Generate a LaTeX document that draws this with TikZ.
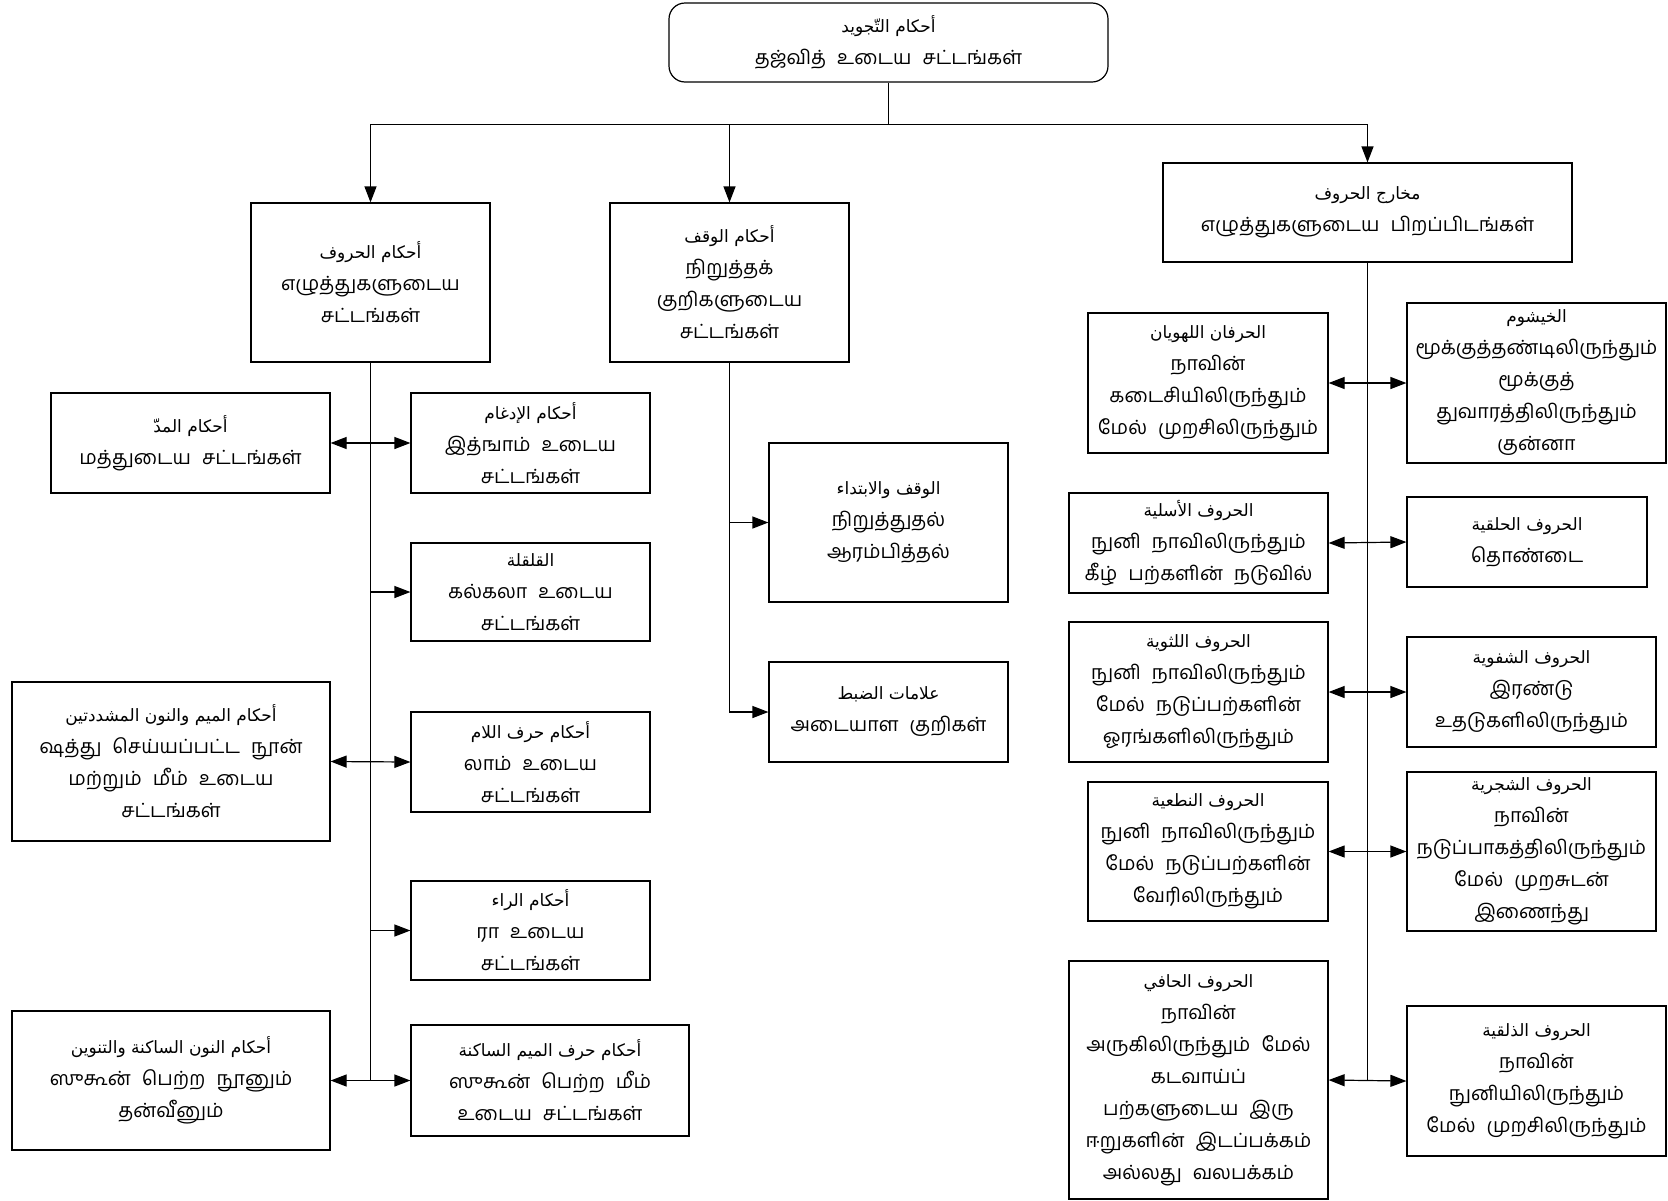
\documentclass[tikz,border=0pt]{standalone}
\usepackage{fontspec}
\usetikzlibrary{arrows.meta,fit}
\TeXXeTstate=1
\newfontfamily\tamilfont[Script=Tamil,WordSpace=2.3]{Hind Madurai}
\newfontfamily\arabicfont[Script=Arabic]{DejaVu Sans}
\newcommand{\arb}[1]{{\arabicfont\fontsize{8.5}{14}\selectfont #1}}
\newcommand{\tamiltext}{\tamilfont\fontsize{9.8}{16}\selectfont}

\tikzset{
  box/.style={draw, line width=0.6pt, inner sep=0pt},
  topbox/.style={box, rounded corners=8pt},
  boxtext/.style={inner sep=0pt, align=center, font=\tamiltext},
  link/.style={line width=0.6pt, >={Triangle[length=8pt,width=6pt]}},
}

\begin{document}
\begin{tikzpicture}[x=0.5pt,y=-0.5pt]
\useasboundingbox (0,0) rectangle (1668,1200);

% root
\node[topbox, fit={(669,3) (1108,82)}, label={[boxtext]center:{\arb{\beginR أحكام التّجويد\endR}\\ தஜ்வித் உடைய சட்டங்கள்}}] (tajwid) {};

% first level
\node[box, fit={(251,203) (490,362)}, label={[boxtext]center:{\arb{\beginR أحكام الحروف\endR}\\ எழுத்துகளுடைய\\ சட்டங்கள்}}] (huruf) {};
\node[box, fit={(610,203) (849,362)}, label={[boxtext]center:{\arb{\beginR أحكام الوقف\endR}\\ நிறுத்தக்\\ குறிகளுடைய\\ சட்டங்கள்}}] (waqf) {};
\node[box, fit={(1163,163) (1572,262)}, label={[boxtext]center:{\arb{\beginR مخارج الحروف\endR}\\ எழுத்துகளுடைய பிறப்பிடங்கள்}}] (makharij) {};

% left column
\node[box, fit={(51,393) (330,493)}, label={[boxtext]center:{\arb{\beginR أحكام المدّ\endR}\\ மத்துடைய சட்டங்கள்}}] (madd) {};
\node[box, fit={(411,393) (650,493)}, label={[boxtext]center:{\arb{\beginR أحكام الإدغام\endR}\\ இத்ஙாம் உடைய\\ சட்டங்கள்}}] (idgham) {};
\node[box, fit={(411,543) (650,641)}, label={[boxtext]center:{\arb{\beginR القلقلة\endR}\\ கல்கலா உடைய\\ சட்டங்கள்}}] (qalqala) {};
\node[box, fit={(12,682) (330,841)}, label={[boxtext]center:{\arb{\beginR أحكام الميم والنون المشددتين\endR}\\ ஷத்து செய்யப்பட்ட நூன்\\ மற்றும் மீம் உடைய\\ சட்டங்கள்}}] (mushaddad) {};
\node[box, fit={(411,712) (650,812)}, label={[boxtext]center:{\arb{\beginR أحكام حرف اللام\endR}\\ லாம் உடைய\\ சட்டங்கள்}}] (lam) {};
\node[box, fit={(411,881) (650,980)}, label={[boxtext]center:{\arb{\beginR أحكام الراء\endR}\\ ரா உடைய\\ சட்டங்கள்}}] (ra) {};
\node[box, fit={(12,1011) (330,1150)}, label={[boxtext]center:{\arb{\beginR أحكام النون الساكنة والتنوين\endR}\\ ஸுகூன் பெற்ற நூனும்\\ தன்வீனும்}}] (nunsakin) {};
\node[box, fit={(411,1025) (689,1136)}, label={[boxtext]center:{\arb{\beginR أحكام حرف الميم الساكنة\endR}\\ ஸுகூன் பெற்ற மீம்\\ உடைய சட்டங்கள்}}] (mimsakin) {};

% middle column
\node[box, fit={(769,443) (1008,602)}, label={[boxtext]center:{\arb{\beginR الوقف والابتداء\endR}\\ நிறுத்துதல்\\ ஆரம்பித்தல்}}] (ibtida) {};
\node[box, fit={(769,662) (1008,762)}, label={[boxtext]center:{\arb{\beginR علامات الضبط\endR}\\ அடையாள குறிகள்}}] (dabt) {};

% right column
\node[box, fit={(1088,313) (1328,453)}, label={[boxtext]center:{\arb{\beginR الحرفان اللهويان\endR}\\ நாவின்\\ கடைசியிலிருந்தும்\\ மேல் முறசிலிருந்தும்}}] (lahawi) {};
\node[box, fit={(1407,303) (1666,463)}, label={[boxtext]center:{\arb{\beginR الخيشوم\endR}\\ மூக்குத்தண்டிலிருந்தும்\\ மூக்குத்\\ துவாரத்திலிருந்தும்\\ குன்னா}}] (khayshum) {};
\node[box, fit={(1069,493) (1328,593)}, label={[boxtext]center:{\arb{\beginR الحروف الأسلية\endR}\\ நுனி நாவிலிருந்தும்\\ கீழ் பற்களின் நடுவில்}}] (asaliya) {};
\node[box, fit={(1407,497) (1647,587)}, label={[boxtext]center:{\arb{\beginR الحروف الحلقية\endR}\\ தொண்டை}}] (halqiya) {};
\node[box, fit={(1069,622) (1328,762)}, label={[boxtext]center:{\arb{\beginR الحروف اللثوية\endR}\\ நுனி நாவிலிருந்தும்\\ மேல் நடுப்பற்களின்\\ ஓரங்களிலிருந்தும்}}] (lithawiya) {};
\node[box, fit={(1407,637) (1656,747)}, label={[boxtext]center:{\arb{\beginR الحروف الشفوية\endR}\\ இரண்டு\\ உதடுகளிலிருந்தும்}}] (shafawiya) {};
\node[box, fit={(1088,782) (1328,921)}, label={[boxtext]center:{\arb{\beginR الحروف النطعية\endR}\\ நுனி நாவிலிருந்தும்\\ மேல் நடுப்பற்களின்\\ வேரிலிருந்தும்}}] (nitiya) {};
\node[box, fit={(1407,772) (1656,931)}, label={[boxtext]center:{\arb{\beginR الحروف الشجرية\endR}\\ நாவின்\\ நடுப்பாகத்திலிருந்தும்\\ மேல் முறசுடன்\\ இணைந்து}}] (shajariya) {};
\node[box, fit={(1069,961) (1328,1199)}, label={[boxtext]center:{\arb{\beginR الحروف الحافي\endR}\\ நாவின்\\ அருகிலிருந்தும் மேல்\\ கடவாய்ப்\\ பற்களுடைய இரு\\ ஈறுகளின் இடப்பக்கம்\\ அல்லது வலபக்கம்}}] (hafi) {};
\node[box, fit={(1407,1006) (1666,1156)}, label={[boxtext]center:{\arb{\beginR الحروف الذلقية\endR}\\ நாவின்\\ நுனியிலிருந்தும்\\ மேல் முறசிலிருந்தும்}}] (dhalqiya) {};

% root to first level
\coordinate (split) at (tajwid.south |- 0,124.5);
\draw[link] (tajwid.south) -- (split);
\draw[link,->] (split) -| (huruf.north);
\draw[link,->] (split) -| (waqf.north);
\draw[link,->] (split) -| (makharij.north);

% left trunk
\draw[link] (huruf.south) -- (huruf.south |- nunsakin.east);
\draw[link,<->] (madd.east) -- (idgham.west);
\draw[link,->] (huruf.south |- qalqala.west) -- (qalqala.west);
\draw[link,<->] (mushaddad.east) -- (lam.west);
\draw[link,->] (huruf.south |- ra.west) -- (ra.west);
\draw[link,<->] (nunsakin.east) -- (mimsakin.west);

% middle trunk
\draw[link,->] (waqf.south) |- (dabt.west);
\draw[link,->] (waqf.south |- ibtida.west) -- (ibtida.west);

% right trunk
\draw[link] (makharij.south) -- (makharij.south |- hafi.east);
\draw[link,<->] (lahawi.east) -- (khayshum.west);
\draw[link,<->] (asaliya.east) -- (halqiya.west);
\draw[link,<->] (lithawiya.east) -- (shafawiya.west);
\draw[link,<->] (nitiya.east) -- (shajariya.west);
\draw[link,<->] (hafi.east) -- (dhalqiya.west);
\end{tikzpicture}
\end{document}
